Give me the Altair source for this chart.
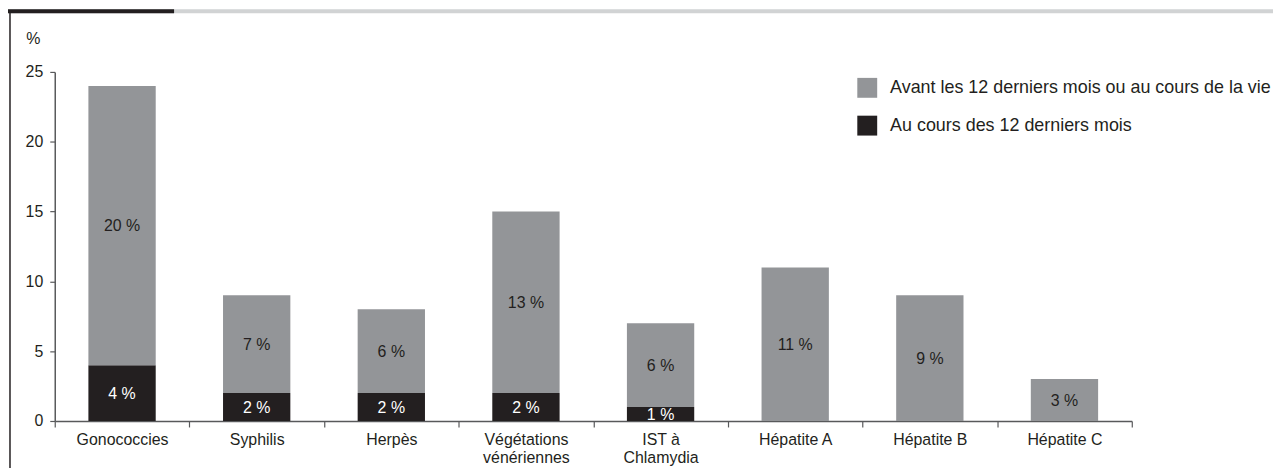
import altair as alt
import pandas as pd

categories = ["Gonococcies", "Syphilis", "Herpès", "Végétations\nvénériennes",
              "IST à\nChlamydia", "Hépatite A", "Hépatite B", "Hépatite C"]
recent = [4, 2, 2, 2, 1, 0, 0, 0]          # Au cours des 12 derniers mois
before = [20, 7, 6, 13, 6, 11, 9, 3]       # Avant les 12 derniers mois ou au cours de la vie
series_names = ["Avant les 12 derniers mois ou au cours de la vie", "Au cours des 12 derniers mois"]
y_ticks = [0, 5, 10, 15, 20, 25]

GRAY = "#939598"
DARK = "#231f20"
TXT = "#231f20"
AXIS = "#58595b"
FONT = "Liberation Sans, Arial"

rows = []
for c, r, b in zip(categories, recent, before):
    rows.append({"cat": c, "series": series_names[1], "value": r, "ord": 0})
    rows.append({"cat": c, "series": series_names[0], "value": b, "ord": 1})
df = pd.DataFrame(rows)

W, H = 1083, 351
PL, PT = 47, 63

xenc = alt.X("cat:N", sort=categories,
             scale=alt.Scale(paddingInner=0, paddingOuter=0),
             axis=alt.Axis(title=None, labelAngle=0, tickBand="extent",
                           labelExpr="split(datum.label, '\\n')",
                           labelLineHeight=18, labelFontSize=16, labelFont=FONT,
                           labelColor=TXT, domainColor=AXIS, tickColor=AXIS,
                           tickSize=6, labelPadding=5, domainWidth=1.5, tickWidth=1.2))

bars = alt.Chart(df).mark_bar(width=alt.RelativeBandSize(0.5)).encode(
    x=xenc,
    y=alt.Y("value:Q", stack="zero",
            scale=alt.Scale(domain=[0, 25], nice=False),
            axis=alt.Axis(values=y_ticks, title="%", titleAngle=0, titleX=-22, titleY=-34,
                          titleAlign="center", titleBaseline="middle",
                          titleFont=FONT, titleFontSize=16, titleFontWeight="normal",
                          titleColor=TXT, labelFont=FONT, labelFontSize=16, labelColor=TXT,
                          domainColor=AXIS, tickColor=AXIS, tickSize=5, labelPadding=7,
                          grid=False, domainWidth=1.5, tickWidth=1.2)),
    color=alt.Color("series:N", scale=alt.Scale(domain=series_names, range=[GRAY, DARK]),
                    legend=alt.Legend(title=None, orient="none", legendX=807, legendY=6,
                                      symbolType="square", symbolSize=400,
                                      symbolStrokeWidth=0, symbolOpacity=1,
                                      labelFont=FONT, labelFontSize=18, labelColor=TXT,
                                      labelOffset=13, rowPadding=18, padding=0,
                                      labelLimit=500)),
    order=alt.Order("ord:Q"),
)

labels = alt.Chart(df).transform_stack(
    stack="value", groupby=["cat"], as_=["v0", "v1"],
    sort=[alt.SortField("ord", order="ascending")]
).transform_filter("datum.value > 0").transform_calculate(
    mid="(datum.v0 + datum.v1) / 2",
    lab="datum.value + ' %'"
).mark_text(font=FONT, fontSize=16, baseline="middle", dy=1).encode(
    x=alt.X("cat:N", sort=categories),
    y=alt.Y("mid:Q"),
    text="lab:N",
    color=alt.Color("series:N", scale=alt.Scale(domain=series_names, range=["#231f20", "#ffffff"]),
                    legend=None),
)

one = alt.Data(values=[{"a": 1}])
strip_light = alt.Chart(one).mark_rect(color="#d1d3d4").encode(
    x=alt.value(-PL), x2=alt.value(1272 - PL), y=alt.value(-PT), y2=alt.value(-PT + 4))
strip_dark = alt.Chart(one).mark_rect(color=DARK).encode(
    x=alt.value(-PL), x2=alt.value(167 - PL), y=alt.value(-PT), y2=alt.value(-PT + 4))
border = alt.Chart(one).mark_rule(color=DARK, strokeWidth=1.5).encode(
    x=alt.value(2 - PL), y=alt.value(-PT + 3), y2=alt.value(H + 60))

chart = alt.layer(strip_light, strip_dark, border, bars, labels).resolve_scale(
    color="independent"
).properties(
    width=W, height=H,
    autosize=alt.AutoSizeParams(type="none"),
    padding={"left": PL, "top": PT, "right": 1272 - PL - W, "bottom": 46},
).configure(
    background="white",
    view=alt.ViewConfig(strokeWidth=0, stroke="transparent"),
)

chart.save("out.html", embed_options={"renderer": "svg", "actions": False})
